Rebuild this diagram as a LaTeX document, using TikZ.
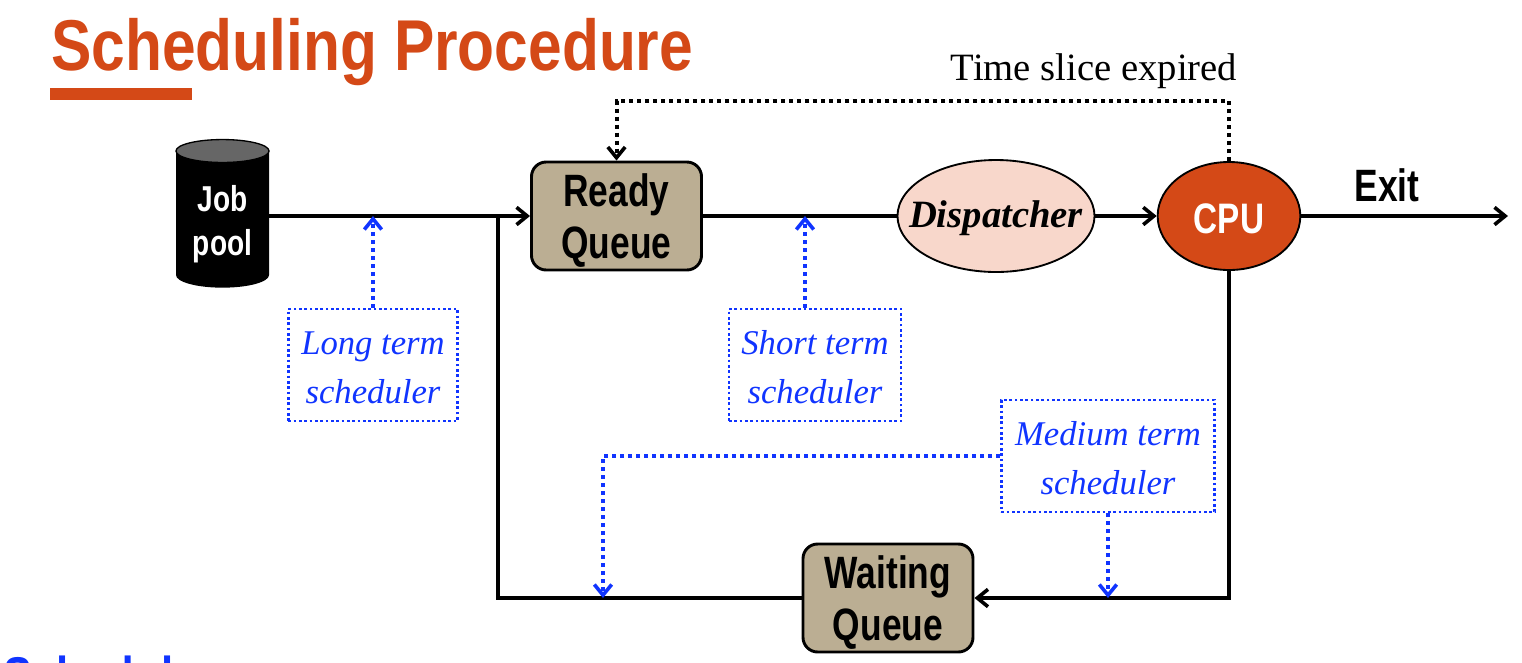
\documentclass[tikz,border=0pt]{standalone}
\usepackage{fontspec}
\setmainfont{Liberation Serif}
\newfontfamily\narrowfont[FakeStretch=0.78]{Liberation Sans}
\newfontfamily\headfont[FakeStretch=0.84]{Liberation Sans}
\usetikzlibrary{arrows.meta,shapes.geometric}
\definecolor{rust}{RGB}{212,73,23}
\definecolor{khaki}{RGB}{187,174,147}
\definecolor{peach}{RGB}{248,215,203}
\definecolor{schedblue}{RGB}{16,52,255}
\newcommand{\topgap}[1]{\rule{0pt}{#1}}
\tikzset{
    barb/.style={-{Straight Barb[length=8pt,width=13pt,line width=2.7pt]}},
    flow/.style={line width=3pt,barb},
    plainflow/.style={line width=3pt},
    queue/.style={draw,fill=khaki,line width=2.2pt,rounded corners=11pt,minimum width=127.5pt,minimum height=81pt,inner sep=0pt,align=center,font=\narrowfont\bfseries\fontsize{34}{39}\selectfont},
    sched/.style={draw=schedblue,text=schedblue,line width=2pt,dash pattern=on 2pt off 2pt,inner sep=0pt,align=center,font=\itshape\fontsize{26}{37}\selectfont},
    schedflow/.style={schedblue,line width=3pt,dash pattern=on 3pt off 3pt,barb},
    expired/.style={black,line width=3pt,dash pattern=on 3pt off 3pt,barb}
}
\begin{document}
\begin{tikzpicture}[x=0.75pt,y=-0.75pt]
    \useasboundingbox (0,0) rectangle (1522,662);
    % heading
    \node (title) [anchor=base west,inner sep=0pt,text=rust,font=\headfont\bfseries\fontsize{54}{60}\selectfont] at (51,70) {Scheduling Procedure};
    \node (titlebar) [anchor=north west,fill=rust,inner sep=0pt,minimum width=106pt,minimum height=8.5pt] at (50,88) {};
    \node (cutoff) [anchor=base west,inner sep=0pt,text=schedblue,font=\narrowfont\bfseries\fontsize{42}{48}\selectfont] at (3,696) {Scheduler};

    % job pool drum
    \fill (176,151) -- (176,275) arc [start angle=180,end angle=360,x radius=34.9pt,y radius=9.5pt] -- (269,151) -- cycle;
    \draw [fill=black!60,line width=1pt] (222.5,151) ellipse [x radius=34.9pt,y radius=8.6pt];

    % main nodes
    \node (job) [text=white,minimum width=69.8pt,inner sep=0pt,align=center,font=\narrowfont\bfseries\fontsize{27}{33}\selectfont] at (222.5,224) {Job\\pool};
    \node (ready) [queue] at (616.5,216) {\topgap{32pt}Ready\\Queue};
    \node (dispatcher) [ellipse,draw,line width=1.4pt,fill=peach,minimum width=146pt,minimum height=84pt,inner xsep=-13pt,inner ysep=0pt,font=\bfseries\itshape\fontsize{29}{34}\selectfont] at (996,216) {\topgap{24pt}Dispatcher};
    \node (cpu) [ellipse,draw,line width=1.4pt,fill=rust,text=white,minimum width=107pt,minimum height=81pt,inner sep=0pt,font=\narrowfont\bfseries\fontsize{32}{36}\selectfont] at (1229,216) {\topgap{27pt}CPU};
    \node (waiting) [queue] at (888,598) {\topgap{32pt}Waiting\\Queue};
    \coordinate (exit) at (1508,216);
    \node (exitlabel) [inner sep=0pt,font=\narrowfont\bfseries\fontsize{34}{38}\selectfont] at (1387,185) {Exit};
    \node (timeslice) [inner sep=0pt,font=\fontsize{29}{34}\selectfont] at (1094,71) {Time slice expired};

    % scheduler boxes
    \node (long) [sched,minimum width=127pt,minimum height=84pt] at (373,365) {\topgap{21pt}Long term\\scheduler};
    \node (short) [sched,minimum width=129pt,minimum height=84pt] at (815,365) {\topgap{21pt}Short term\\scheduler};
    \node (medium) [sched,minimum width=160pt,minimum height=84pt] at (1108,456) {\topgap{21pt}Medium term\\scheduler};

    % helper points on the lines
    \coordinate (jobline) at (373,216);
    \coordinate (displine) at (805,216);
    \coordinate (rejoin) at (498,216);
    \coordinate (leftdrop) at (603,598);
    \coordinate (rightdrop) at (1108,598);

    % flows
    \draw [flow] (job.east |- ready) -- (ready);
    \draw [plainflow] (ready) -- (dispatcher);
    \draw [flow] (dispatcher) -- (cpu);
    \draw [flow] (cpu) -- (exit);
    \draw [flow] (cpu) |- (waiting);
    \draw [plainflow] (waiting) -| (rejoin);

    % dotted arrows
    \draw [expired] (cpu.north) -- ++(0,-60) -| (ready.north);
    \draw [schedflow] (long.north) -- (long.north |- jobline);
    \draw [schedflow] (displine |- short.north) -- (displine);
    \draw [schedflow] (medium.west) -| (leftdrop);
    \draw [schedflow] (medium.south) -- (rightdrop);
\end{tikzpicture}
\end{document}
